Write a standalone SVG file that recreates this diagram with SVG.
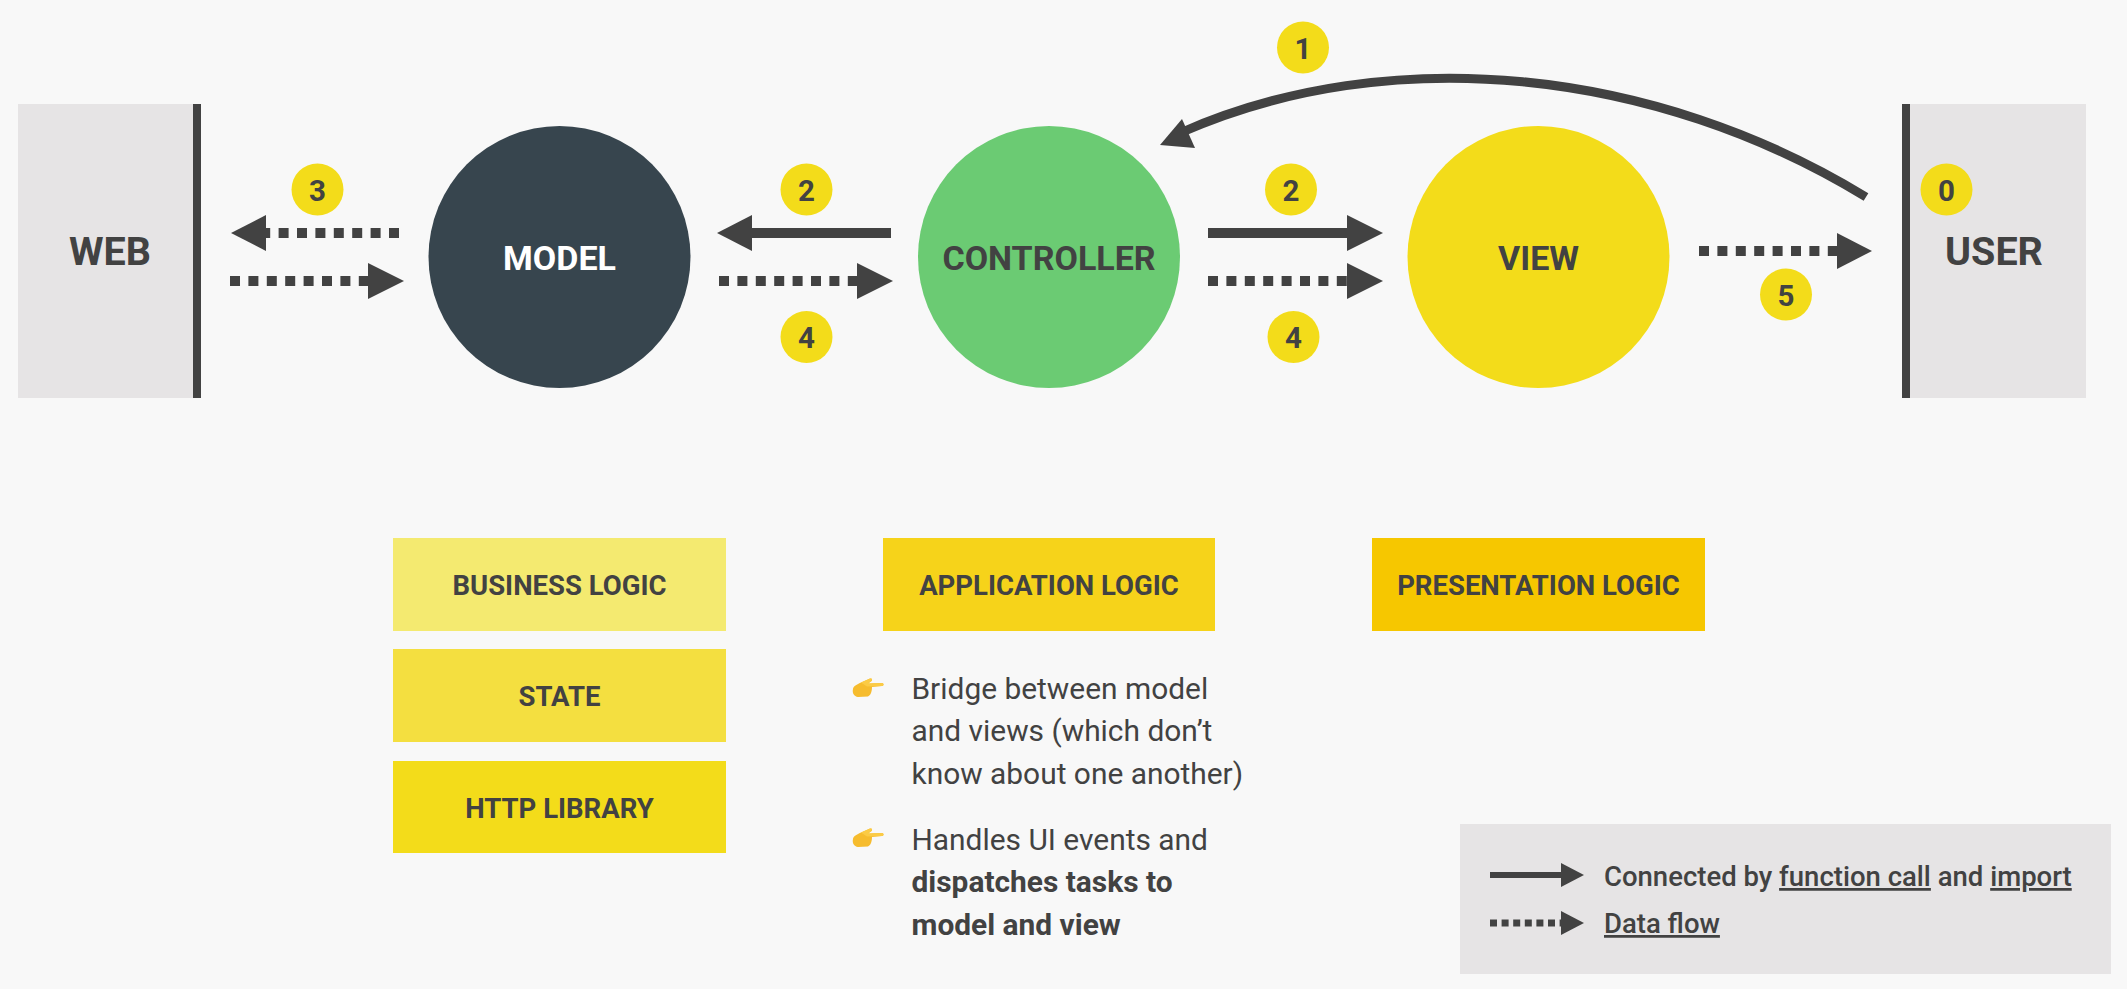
<svg xmlns="http://www.w3.org/2000/svg" width="2127" height="989" viewBox="0 0 2127 989">
<style>
text{font-family:Roboto,"Liberation Sans",sans-serif;fill:#424242}
.t{font-weight:700;text-anchor:middle}
.big{font-size:39.500px}
.circ{font-size:34px}
.box{font-size:27.500px;font-weight:700;text-anchor:middle}
.num{font-size:29.500px;font-weight:700;text-anchor:middle}
.b{font-size:29.900px}
.bb{font-weight:700}
.leg{font-size:27.500px;font-weight:500}
.u{text-decoration:underline}
.badge{fill:#f3dc1a}
.solid{fill:none;stroke:#424242;stroke-width:10}
.dot{fill:none;stroke:#424242;stroke-width:10;stroke-dasharray:10 8.4}
.arc{stroke-width:9}
.thin{stroke-width:6}
.dotthin{stroke-width:7;stroke-dasharray:7 4.6}
.head{fill:#424242}
</style>
<defs>
<g id="hand">
<path d="M0 11C0 8 5 6 8 4.500L17 0.500C19 0 20 2 18 3.500L15 5.500L29 5C31 5 31 8 29 8L19 9C19 13 18 17 15 18.500L5 19C1 18.500 -1 15 0 11Z" fill="#f6bc2e"/>
<path d="M8 4.500L17 0.500C19 0 20 2 18 3.500L15 5.500L29 5C31 5 31 8 29 8L14 8.500Z" fill="#fbcb45"/>
</g>
</defs>
<rect width="2127" height="989" fill="#f8f8f8"/>
<g id="web"><rect x="18" y="104" width="175" height="294" fill="#e6e4e5"/><rect x="193" y="104" width="8" height="294" fill="#424242"/><text class="t big" x="110" y="265">WEB</text></g>
<g id="user"><rect x="1910" y="104" width="176" height="294" fill="#e6e4e5"/><rect x="1902" y="104" width="8" height="294" fill="#424242"/><text class="t big" x="1994" y="265">USER</text></g>
<g id="model"><circle cx="559.500" cy="257" r="131" fill="#37454e"/><text class="t circ" x="559.500" y="269.500" style="fill:#fff">MODEL</text></g>
<g id="controller"><circle cx="1049" cy="257" r="131" fill="#6bcb73"/><text class="t circ" x="1049" y="269.500">CONTROLLER</text></g>
<g id="view"><circle cx="1538.500" cy="257" r="131" fill="#f3dc1a"/><text class="t circ" x="1538.500" y="269.500">VIEW</text></g>
<g id="connectors">
<path class="solid arc" d="M1866 197C1655 68 1390 40 1180 133"/><path class="head" d="M1160 145L1182 119L1195 148Z"/>
<path class="dot" d="M399 233H266"/><path class="head" d="M231 233L266 215V251Z"/>
<path class="dot" d="M230 281H368"/><path class="head" d="M404 281L368 263V299Z"/>
<path class="solid" d="M891 233H752"/><path class="head" d="M717 233L752 215V251Z"/>
<path class="dot" d="M719 281H857"/><path class="head" d="M893 281L857 263V299Z"/>
<path class="solid" d="M1208 233H1347"/><path class="head" d="M1383 233L1347 215V251Z"/>
<path class="dot" d="M1208 281H1347"/><path class="head" d="M1383 281L1347 263V299Z"/>
<path class="dot" d="M1699 251H1837"/><path class="head" d="M1872 251L1837 233V269Z"/>
</g>
<g id="badge-1"><circle class="badge" cx="1303" cy="47.500" r="26"/><text class="num" x="1303" y="58.500">1</text></g>
<g id="badge-3"><circle class="badge" cx="317.500" cy="189.500" r="26"/><text class="num" x="317.500" y="200.500">3</text></g>
<g id="badge-2a"><circle class="badge" cx="806.500" cy="189.500" r="26"/><text class="num" x="806.500" y="200.500">2</text></g>
<g id="badge-4a"><circle class="badge" cx="806.500" cy="337" r="26"/><text class="num" x="806.500" y="348">4</text></g>
<g id="badge-2b"><circle class="badge" cx="1291" cy="189.500" r="26"/><text class="num" x="1291" y="200.500">2</text></g>
<g id="badge-4b"><circle class="badge" cx="1293.500" cy="337" r="26"/><text class="num" x="1293.500" y="348">4</text></g>
<g id="badge-5"><circle class="badge" cx="1786" cy="294.500" r="26"/><text class="num" x="1786" y="305.500">5</text></g>
<g id="badge-0"><circle class="badge" cx="1946.500" cy="189.500" r="26"/><text class="num" x="1946.500" y="200.500">0</text></g>
<g id="business"><rect x="393" y="538" width="333" height="93" fill="#f4ea70"/><text class="box" x="559.500" y="594.500">BUSINESS LOGIC</text></g>
<g id="state"><rect x="393" y="649" width="333" height="93" fill="#f4df40"/><text class="box" x="559.500" y="706">STATE</text></g>
<g id="http"><rect x="393" y="761" width="333" height="92" fill="#f3dc1a"/><text class="box" x="559.500" y="818">HTTP LIBRARY</text></g>
<g id="application"><rect x="883" y="538" width="332" height="93" fill="#f6d31a"/><text class="box" x="1049" y="594.500">APPLICATION LOGIC</text></g>
<g id="presentation"><rect x="1372" y="538" width="333" height="93" fill="#f6c700"/><text class="box" x="1538.500" y="594.500">PRESENTATION LOGIC</text></g>
<g id="notes">
<use href="#hand" x="853" y="678"/>
<text class="b" x="911.500" y="699">Bridge between model</text>
<text class="b" x="911.500" y="741">and views (which don’t</text>
<text class="b" x="911.500" y="784">know about one another)</text>
<use href="#hand" x="853" y="828"/>
<text class="b" x="911.500" y="850">Handles UI events and</text>
<text class="b bb" x="911.500" y="892">dispatches tasks to</text>
<text class="b bb" x="911.500" y="935">model and view</text>
</g>
<g id="legend">
<rect x="1460" y="824" width="651" height="150" fill="#e6e4e5"/>
<path class="solid thin" d="M1490 875H1561"/><path class="head" d="M1584 875L1561 863V887Z"/>
<path class="dot dotthin" d="M1490 923H1561"/><path class="head" d="M1584 923L1561 911V935Z"/>
<text class="leg" x="1604" y="886">Connected by <tspan class="u">function call</tspan> and <tspan class="u">import</tspan></text>
<text class="leg u" x="1604" y="933">Data flow</text>
</g>
</svg>
